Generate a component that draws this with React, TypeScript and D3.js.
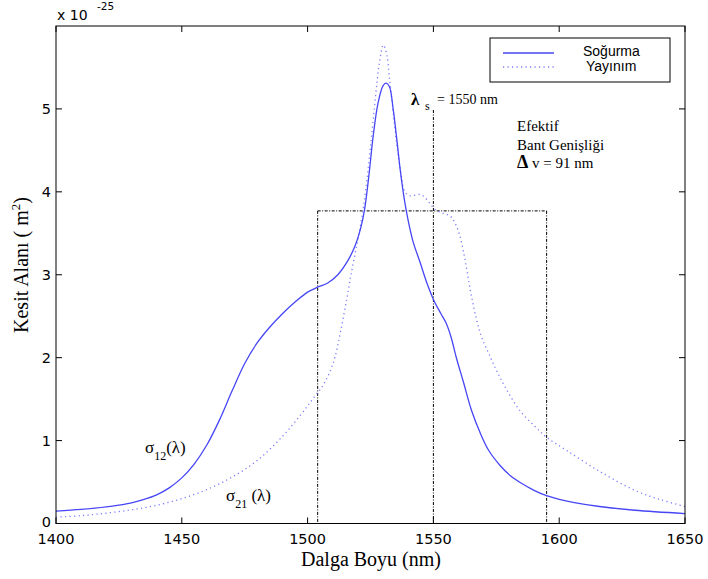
import React from "react";
import * as d3 from "d3";

const absWl = [1400,1410,1420,1425,1430,1435,1440,1445,1450,1455,1460,1465,1470,1475,1480,1485,1490,1495,1500,1504,1508,1512,1516,1519,1521,1522.6,1524.3,1526.1,1528,1530,1531.2,1532.5,1534,1535.5,1537,1538.5,1540,1542,1544.7,1547.3,1550.2,1553,1555,1557,1559.2,1561.9,1565.2,1568.5,1572,1576.5,1580.5,1585,1590,1595,1600,1606,1616,1630,1650];
const absVal = [0.15,0.17,0.2,0.222,0.25,0.29,0.345,0.43,0.55,0.72,0.95,1.25,1.6,1.93,2.18,2.37,2.53,2.67,2.79,2.85,2.9,3.0,3.17,3.36,3.55,3.78,4.18,4.68,5.07,5.28,5.31,5.27,5.0,4.62,4.22,3.9,3.65,3.39,3.15,2.91,2.69,2.53,2.42,2.25,1.99,1.71,1.36,1.1,0.88,0.7,0.58,0.485,0.4,0.335,0.29,0.252,0.205,0.16,0.12];

const emWl = [1400,1410,1420,1430,1440,1450,1460,1470,1480,1490,1497,1502,1506,1509,1511,1513,1515.5,1517.5,1519.5,1521.5,1523,1525,1527,1528.5,1530.1,1531.5,1532.5,1534,1535.5,1537,1538.7,1541,1544,1546,1548.6,1551,1554,1556.6,1558.3,1560.2,1562,1563.5,1565,1567,1569,1572,1575,1579,1584.4,1590.4,1595,1603,1616,1630,1640,1650];
const emVal = [0.077,0.095,0.125,0.165,0.22,0.3,0.41,0.56,0.76,1.05,1.3,1.5,1.66,1.84,2.02,2.3,2.7,3.04,3.35,3.68,4.0,4.55,5.15,5.55,5.77,5.65,5.38,4.97,4.56,4.24,4.0,3.95,3.97,3.95,3.86,3.78,3.74,3.71,3.64,3.5,3.27,3.02,2.76,2.48,2.26,2.05,1.85,1.62,1.36,1.17,1.04,0.88,0.63,0.4,0.29,0.205];

const xTicks = [1400, 1450, 1500, 1550, 1600, 1650];
const yTicks = [0, 1, 2, 3, 4, 5];
const signalWl = 1550;
const bandLo = 1504;
const bandHi = 1595;
const bandHeight = 3.77;
const legendLabels = ["Soğurma", "Yayınım"];

const L = 56, R = 685, T = 26, B = 523.5;

export default function App() {
  const x = d3.scaleLinear().domain([1400, 1650]).range([L, R]);
  const y = d3.scaleLinear().domain([0, 6]).range([B, T]);
  const line = d3.line<[number, number]>().x(d => x(d[0])).y(d => y(d[1])).curve(d3.curveCatmullRom.alpha(0.5));
  const absPath = line(absWl.map((w, i) => [w, absVal[i]]) as [number, number][]) || "";
  const emPath = line(emWl.map((w, i) => [w, emVal[i]]) as [number, number][]) || "";
  const sans = "'DejaVu Sans', Verdana, sans-serif";
  const serif = "'Liberation Serif', 'Times New Roman', serif";
  const arial = "'Liberation Sans', Arial, sans-serif";
  const dash = "3,1.5,1,1.5";
  const solidColor = "#4646f5";
  const dotColor = "#7b7bff";
  return (
    <svg width={708} height={579} style={{ position: "absolute", left: 0, top: 0, background: "#fff" }}>
      <rect x={0} y={0} width={708} height={579} fill="#fff" />
      <defs>
        <clipPath id="plot"><rect x={L} y={T} width={R - L} height={B - T} /></clipPath>
      </defs>
      {xTicks.map(t => (
        <g key={"xt" + t}>
          <line x1={x(t)} x2={x(t)} y1={B} y2={B - 6} stroke="#000" />
          <line x1={x(t)} x2={x(t)} y1={T} y2={T + 6} stroke="#000" />
          <text x={x(t)} y={B + 20} textAnchor="middle" fontFamily={sans} fontSize={14.5}>{t}</text>
        </g>
      ))}
      {yTicks.map(t => (
        <g key={"yt" + t}>
          <line x1={L} x2={L + 6} y1={y(t)} y2={y(t)} stroke="#000" />
          <line x1={R} x2={R - 6} y1={y(t)} y2={y(t)} stroke="#000" />
          <text x={L - 5} y={y(t) + (t === 0 ? 3 : 5)} textAnchor="end" fontFamily={sans} fontSize={14.5}>{t}</text>
        </g>
      ))}
      <text x={57} y={20} fontFamily={sans} fontSize={14}>x 10</text>
      <text x={97} y={10} fontFamily={sans} fontSize={10.5}>-25</text>
      <g stroke="#000" strokeWidth={1} strokeDasharray={dash} fill="none">
        <line x1={x(bandLo)} x2={x(bandLo)} y1={y(bandHeight)} y2={B} />
        <line x1={x(bandHi)} x2={x(bandHi)} y1={y(bandHeight)} y2={B} />
        <line x1={x(bandLo)} x2={x(bandHi)} y1={y(bandHeight)} y2={y(bandHeight)} />
        <line x1={x(signalWl)} x2={x(signalWl)} y1={110} y2={B} />
      </g>
      <g clipPath="url(#plot)">
        <path d={emPath} fill="none" stroke={dotColor} strokeWidth={1.3} strokeDasharray="1.2,3.3" />
        <path d={absPath} fill="none" stroke={solidColor} strokeWidth={1.3} />
      </g>
      <rect x={L} y={T} width={R - L} height={B - T} fill="none" stroke="#000" strokeWidth={1} />
      <rect x={490} y={38} width={180} height={44} fill="#fff" stroke="#000" strokeWidth={1} />
      <line x1={503} x2={554} y1={53} y2={53} stroke={solidColor} strokeWidth={1.3} />
      <line x1={503} x2={554} y1={67} y2={67} stroke={dotColor} strokeWidth={1.3} strokeDasharray="1.2,3.3" />
      <text x={583} y={56} fontFamily={arial} fontSize={14}>{legendLabels[0]}</text>
      <text x={586} y={71} fontFamily={arial} fontSize={14}>{legendLabels[1]}</text>
      <text x={411} y={105} fontFamily={serif} fontSize={17} fontWeight="bold">λ</text>
      <text x={425} y={110} fontFamily={serif} fontSize={12}>s</text>
      <text x={437} y={104} fontFamily={serif} fontSize={14}>= 1550 nm</text>
      <text x={517} y={131} fontFamily={serif} fontSize={15}>Efektif</text>
      <text x={517} y={150} fontFamily={serif} fontSize={15}>Bant Genişliği</text>
      <text x={517} y={168} fontFamily={serif} fontSize={15}><tspan fontWeight="bold" fontSize={18}>Δ</tspan> v = 91 nm</text>
      <text x={145} y={453} fontFamily={serif} fontSize={17}>σ<tspan fontSize={12} dy={7}>12</tspan><tspan dy={-7}>(λ)</tspan></text>
      <text x={226} y={501} fontFamily={serif} fontSize={17}>σ<tspan fontSize={12} dy={7}>21</tspan><tspan dy={-7}> (λ)</tspan></text>
      <text x={371} y={566} textAnchor="middle" fontFamily={serif} fontSize={20}>Dalga Boyu (nm)</text>
      <text transform={`translate(28, 265) rotate(-90)`} textAnchor="middle" fontFamily={serif} fontSize={20}>Kesit Alanı ( m<tspan fontSize={13} dy={-8}>2</tspan><tspan dy={8}>)</tspan></text>
    </svg>
  );
}
